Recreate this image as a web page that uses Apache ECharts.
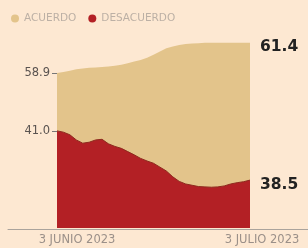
<!DOCTYPE html>
<html>
<head>
<meta charset="utf-8">
<script src="https://cdn.jsdelivr.net/npm/echarts@6/dist/echarts.min.js"></script>
<style>
  html, body { margin: 0; padding: 0; background: #fde8d2; }
  #chart { width: 308px; height: 248px; }
</style>
</head>
<body>
<div id="chart"></div>
<script>
// 3 junio - 3 julio 2023, one point per day
var days = [];
for (var d = 3; d <= 30; d++) days.push(d + ' jun');
days.push('1 jul', '2 jul', '3 jul');

var acuerdo = [58.9, 59.2, 59.6, 60.0, 60.3, 60.5, 60.6, 60.7, 60.9, 61.1,
  61.4, 61.9, 62.4, 62.9, 63.6, 64.5, 65.5, 66.5, 67.1, 67.5,
  67.8, 68.0, 68.1, 68.2, 68.2, 68.2, 68.2, 68.2, 68.2, 68.2, 68.2];
var desacuerdo = [41.0, 40.6, 39.8, 38.2, 37.2, 37.5, 38.2, 38.4, 37.0, 36.2,
  35.6, 34.6, 33.6, 32.5, 31.7, 31.0, 29.8, 28.6, 26.8, 25.4,
  24.6, 24.2, 23.8, 23.7, 23.6, 23.7, 24.0, 24.6, 25.0, 25.3, 25.8];

var yTicks = [41.0, 58.9];
var xLabels = ['3 JUNIO 2023', '3 JULIO 2023'];
var endLabels = ['61.4', '38.5'];

var font = 'DejaVu Sans';

var option = {
  backgroundColor: '#fde8d2',
  animation: false,
  legend: {
    left: 6,
    top: 8,
    itemWidth: 8,
    itemHeight: 8,
    itemGap: 12,
    icon: 'circle',
    textStyle: { color: '#bcb0a5', fontSize: 10.5, fontFamily: font },
    data: ['ACUERDO', 'DESACUERDO']
  },
  grid: [
    { left: 57, right: 58, top: 37, bottom: 20 },
    { left: 8, right: 0, bottom: 19, height: 1 }
  ],
  xAxis: [{
    type: 'category',
    boundaryGap: false,
    data: days,
    axisLine: { show: false },
    axisTick: { show: false },
    axisLabel: {
      margin: 6,
      interval: function (i) { return i === 0 || i === days.length - 1; },
      formatter: function (v, i) {
        return i === 0 ? '{a|' + xLabels[0] + '}' : '{b|' + xLabels[1] + '}';
      },
      rich: {
        a: { color: '#9b9089', fontSize: 11.5, fontFamily: font, padding: [0, 0, 0, 40] },
        b: { color: '#9b9089', fontSize: 11.5, fontFamily: font, padding: [0, 0, 0, 24] }
      }
    }
  }, {
    type: 'value',
    gridIndex: 1,
    axisLine: { show: true, lineStyle: { color: '#aaa39c', width: 1 } },
    axisTick: { show: false },
    axisLabel: { show: false },
    splitLine: { show: false }
  }],
  yAxis: [{
    type: 'value',
    min: 11,
    max: 70,
    axisLine: { show: false },
    splitLine: { show: false },
    axisTick: {
      show: true,
      length: 5,
      customValues: yTicks,
      lineStyle: { color: '#777' }
    },
    axisLabel: {
      customValues: yTicks,
      margin: 7,
      color: '#5a5350',
      fontSize: 11.5,
      fontFamily: font,
      formatter: function (v) { return v.toFixed(1); }
    }
  }, {
    type: 'value',
    gridIndex: 1,
    show: false
  }],
  series: [{
    name: 'ACUERDO',
    type: 'line',
    data: acuerdo,
    symbol: 'none',
    itemStyle: { color: '#e3c48b' },
    lineStyle: { width: 0 },
    areaStyle: { color: '#e3c48b', opacity: 1 },
    endLabel: {
      show: true,
      formatter: function () { return endLabels[0]; },
      color: '#222',
      fontWeight: 'bold',
      fontSize: 15.5,
      fontFamily: font,
      distance: 10,
      offset: [0, 4]
    }
  }, {
    name: 'DESACUERDO',
    type: 'line',
    data: desacuerdo,
    symbol: 'none',
    itemStyle: { color: '#b32025' },
    lineStyle: { width: 1, color: '#8e2a1e' },
    areaStyle: { color: '#b32025', opacity: 1 },
    endLabel: {
      show: true,
      formatter: function () { return endLabels[1]; },
      color: '#222',
      fontWeight: 'bold',
      fontSize: 15.5,
      fontFamily: font,
      distance: 10,
      offset: [0, 5]
    }
  }]
};

var myChart = echarts.init(document.getElementById('chart'));
myChart.setOption(option, true);
</script>
</body>
</html>
